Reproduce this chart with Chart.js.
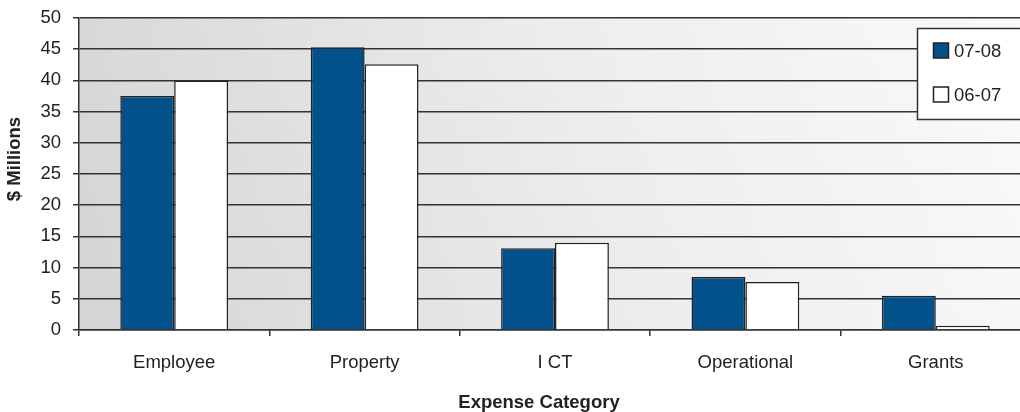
<!DOCTYPE html>
<html>
<head>
<meta charset="utf-8">
<script src="https://cdn.jsdelivr.net/npm/chart.js@4"></script>
<style>
  html, body { margin: 0; padding: 0; background: #fff; overflow: hidden; }
  #wrap { width: 1040px; height: 412px; }
</style>
</head>
<body>
<div id="wrap"><canvas id="chart"></canvas></div>
<script>
// categorias y valores (millones de dolares)
const categorias = ['Employee', 'Property', 'I CT', 'Operational', 'Grants'];
const gastos0708 = [37.5, 45.3, 13.1, 8.5, 5.5];
const gastos0607 = [40.0, 42.6, 14.0, 7.7, 0.7];
const ticksY = [0, 5, 10, 15, 20, 25, 30, 35, 40, 45, 50];
const tituloX = 'Expense Category';
const tituloY = '$ Millions';

const TEXTO = '#222';
const FAMILIA = 'Liberation Sans, Arial, sans-serif';
const FUENTE = { family: FAMILIA, size: 18.5 };

// fondo degradado del area del grafico
const fondo = {
  id: 'fondo',
  beforeDraw(chart) {
    const { ctx, chartArea: a } = chart;
    const g = ctx.createLinearGradient(a.left, a.bottom, a.right, a.top);
    g.addColorStop(0, '#d4d4d4');
    g.addColorStop(0.55, '#ededed');
    g.addColorStop(1, '#fafafa');
    ctx.save();
    ctx.fillStyle = g;
    ctx.fillRect(a.left, a.top, a.right - a.left, a.bottom - a.top);
    ctx.restore();
  }
};

// titulos de los ejes y leyenda en caja blanca
const extras = {
  id: 'extras',
  afterDraw(chart) {
    const ctx = chart.ctx;
    ctx.save();
    ctx.fillStyle = TEXTO;
    ctx.font = 'bold 18.5px ' + FAMILIA;
    ctx.textAlign = 'center';
    ctx.textBaseline = 'middle';
    ctx.fillText(tituloX, 539, 403);
    ctx.save();
    ctx.translate(15, 159);
    ctx.rotate(-Math.PI / 2);
    ctx.fillText(tituloY, 0, 0);
    ctx.restore();

    const x = 917.5, y = 28.5;
    ctx.fillStyle = '#fff';
    ctx.strokeStyle = '#333';
    ctx.lineWidth = 1.5;
    ctx.fillRect(x, y, 130, 91);
    ctx.strokeRect(x, y, 130, 91);
    ctx.font = '18.5px ' + FAMILIA;
    ctx.textAlign = 'left';
    chart.data.datasets.forEach((ds, i) => {
      const cy = 50.5 + i * 44;
      ctx.fillStyle = ds.backgroundColor;
      ctx.fillRect(933.5, cy - 7.5, 15, 15);
      ctx.strokeStyle = '#222';
      ctx.strokeRect(933.5, cy - 7.5, 15, 15);
      ctx.fillStyle = TEXTO;
      ctx.fillText(ds.label, 954, cy + 1);
    });
    ctx.restore();
  }
};

new Chart(document.getElementById('chart'), {
  type: 'bar',
  data: {
    labels: categorias,
    datasets: [
      { label: '07-08', data: gastos0708, backgroundColor: '#02518a' },
      { label: '06-07', data: gastos0607, backgroundColor: '#ffffff' }
    ]
  },
  options: {
    responsive: true,
    maintainAspectRatio: false,
    animation: false,
    layout: { padding: { top: 18, right: 9 } },
    datasets: {
      bar: {
        borderColor: '#222',
        borderWidth: 1.5,
        barPercentage: 1,
        categoryPercentage: 0.566
      }
    },
    plugins: {
      legend: { display: false },
      tooltip: { enabled: false }
    },
    scales: {
      x: {
        afterFit(s) { s.height = 82; },
        grid: { drawOnChartArea: false, color: '#333', lineWidth: 1.5, tickLength: 6 },
        border: { color: '#333', width: 1.5 },
        ticks: { color: TEXTO, font: FUENTE, padding: 16 }
      },
      y: {
        min: 0,
        max: 50,
        afterFit(s) {
          s.width = 79;
          s.paddingTop = 0;
          s.paddingBottom = 0;
        },
        afterBuildTicks(s) { s.ticks = ticksY.map(v => ({ value: v })); },
        grid: { color: '#333', lineWidth: 1.5, tickLength: 6 },
        border: { color: '#333', width: 1.5 },
        ticks: { color: TEXTO, font: FUENTE, padding: 12 }
      }
    }
  },
  plugins: [fondo, extras]
});
</script>
</body>
</html>
